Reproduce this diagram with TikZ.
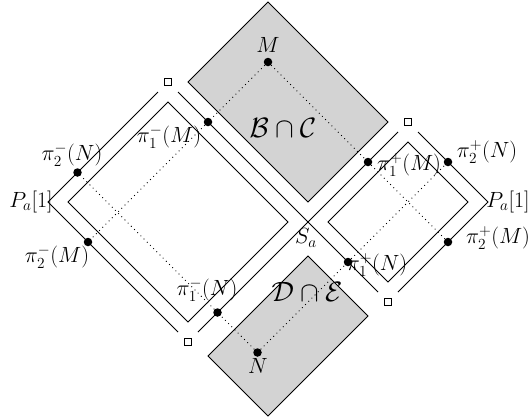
\RequirePackage{fix-cm}
\documentclass[tikz,border=0pt]{standalone}
\definecolor{regiongray}{RGB}{211,211,211}
\tikzset{
  edge/.style={line width=0.8pt, line join=miter},
  dotline/.style={line width=0.8pt, dash pattern=on 0.9pt off 3.6pt},
  pt/.style={circle, fill=black, inner sep=0pt, minimum size=8.5pt},
  sq/.style={draw, rectangle, inner sep=0pt, minimum size=6.5pt, line width=0.8pt, fill=white},
  lbl/.style={inner sep=0pt, font=\fontsize{22}{26}\selectfont},
  region/.style={inner sep=0pt, font=\fontsize{28}{32}\selectfont},
  shaded/.style={draw, fill=regiongray, line width=0.8pt},
}
\begin{document}
\begin{tikzpicture}[x=1pt,y=-1pt]
\useasboundingbox (0,0) rectangle (530,418);
% shaded regions
\draw[shaded] (268,2) -- (188,82) -- (308,202) -- (388,122) -- cycle;
\draw[shaded] (308,256) -- (368,316) -- (268,416) -- (208,356) -- cycle;
% corner squares
\node[sq] (sqTL) at (168,82) {};
\node[sq] (sqBL) at (188,342) {};
\node[sq] (sqTR) at (408,122) {};
\node[sq] (sqBR) at (388,302) {};
% outer boundaries
\coordinate (L) at (48,202);
\coordinate (R) at (488,202);
\coordinate (Sa) at (308,222);
\draw[edge] (158,92) -- (L) -- (178,332);
\draw[edge] (178,92) -- (Sa) -- (378,292);
\draw[edge] (398,132) -- (Sa) -- (198,332);
\draw[edge] (418,132) -- (R) -- (398,292);
% inner diamonds
\draw[edge] (168,102) -- (68,202) -- (188,322) -- (288,222) -- cycle;
\draw[edge] (408,142) -- (328,222) -- (388,282) -- (468,202) -- cycle;
% points
\node[pt] (M) at (268,62) {};
\node[pt] (p1mM) at (208,122) {};
\node[pt] (p2mM) at (88,242) {};
\node[pt] (p1pM) at (368,162) {};
\node[pt] (p2pM) at (448,242) {};
\node[pt] (N) at (257.5,352.5) {};
\node[pt] (p1mN) at (217.5,312.5) {};
\node[pt] (p2mN) at (77.5,172.5) {};
\node[pt] (p1pN) at (348,262) {};
\node[pt] (p2pN) at (448,162) {};
% dotted projections
\draw[dotline] (M) -- (p1mM) -- (p2mM);
\draw[dotline] (M) -- (p1pM) -- (p2pM);
\draw[dotline] (N) -- (p1mN) -- (p2mN);
\draw[dotline] (N) -- (p1pN) -- (p2pN);
% labels
\node[lbl] (lM) at (268,45) {$M$};
\node[lbl] (lN) at (258,366) {$N$};
\node[region] (lBC) at (283,128) {$\mathcal{B}\cap\mathcal{C}$};
\node[region] (lDE) at (307,292) {$\mathcal{D}\cap\mathcal{E}$};
\node[lbl] (lSa) at (306,238) {$S_a$};
\node[lbl] (lPL) at (31,202) {$P_a[1]$};
\node[lbl] (lPR) at (508,202) {$P_a[1]$};
\node[lbl] (l1mM) at (169,137) {$\pi^{-}_{1}(M)$};
\node[lbl] (l2mN) at (72,155) {$\pi^{-}_{2}(N)$};
\node[lbl] (l2mM) at (57,257) {$\pi^{-}_{2}(M)$};
\node[lbl] (l1mN) at (207,290) {$\pi^{-}_{1}(N)$};
\node[lbl] (l1pN) at (377,265) {$\pi^{+}_{1}(N)$};
\node[lbl] (l1pM) at (409,165) {$\pi^{+}_{1}(M)$};
\node[lbl] (l2pN) at (487,152) {$\pi^{+}_{2}(N)$};
\node[lbl] (l2pM) at (498,238) {$\pi^{+}_{2}(M)$};
\end{tikzpicture}
\end{document}
